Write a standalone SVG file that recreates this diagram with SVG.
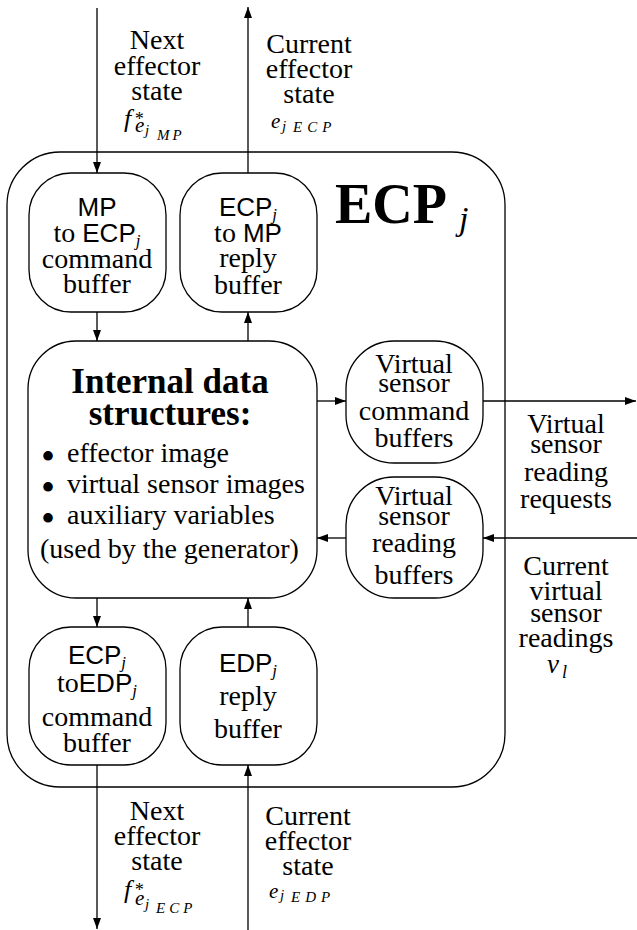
<svg xmlns="http://www.w3.org/2000/svg" width="637" height="930" viewBox="0 0 637 930">
<style>
text{fill:#000}
.s{font-family:"Liberation Serif","Times New Roman",serif;font-size:28px}
.c{text-anchor:middle}
.sans{font-family:"Liberation Sans",Arial,sans-serif;font-size:26px}
.it{font-family:"Liberation Serif","Times New Roman",serif;font-style:italic}
.b{font-family:"Liberation Serif","Times New Roman",serif;font-weight:bold}
.box{fill:#fff;stroke:#000;stroke-width:1.3}
.ln{fill:none;stroke:#000;stroke-width:1.3}
</style>
<defs>
<marker id="ah" markerUnits="userSpaceOnUse" markerWidth="11" markerHeight="8" refX="11" refY="4" orient="auto">
<path d="M0,0 L11,4 L0,8 z" fill="#000"/>
</marker>
</defs>

<g id="ecp">
<rect class="box" x="7" y="152" width="498" height="635" rx="53" ry="53"/>
<text class="b" x="335" y="223" font-size="56">ECP<tspan class="it" x="459" y="230" font-size="34" font-weight="normal">j</tspan></text>
</g>

<g id="connectors">
<line class="ln" x1="97" y1="8" x2="97" y2="173" marker-end="url(#ah)"/>
<line class="ln" x1="248" y1="173" x2="248" y2="7" marker-end="url(#ah)"/>
<line class="ln" x1="97" y1="312" x2="97" y2="341" marker-end="url(#ah)"/>
<line class="ln" x1="248" y1="341" x2="248" y2="312" marker-end="url(#ah)"/>
<line class="ln" x1="317" y1="401" x2="346" y2="401" marker-end="url(#ah)"/>
<line class="ln" x1="483" y1="401" x2="636" y2="401" marker-end="url(#ah)"/>
<line class="ln" x1="637" y1="538" x2="483" y2="538" marker-end="url(#ah)"/>
<line class="ln" x1="346" y1="538" x2="317" y2="538" marker-end="url(#ah)"/>
<line class="ln" x1="97" y1="598" x2="97" y2="627" marker-end="url(#ah)"/>
<line class="ln" x1="248" y1="627" x2="248" y2="598" marker-end="url(#ah)"/>
<line class="ln" x1="97" y1="765" x2="97" y2="929" marker-end="url(#ah)"/>
<line class="ln" x1="248" y1="930" x2="248" y2="765" marker-end="url(#ah)"/>
</g>

<g id="mp-to-ecp">
<rect class="box" x="29" y="173" width="137" height="139" rx="42" ry="42"/>
<text class="s c" x="97" y="216"><tspan class="sans">MP</tspan><tspan x="97" y="242">to </tspan><tspan class="sans">ECP</tspan><tspan class="it" font-size="17" dy="4">j</tspan><tspan x="97" y="268">command</tspan><tspan x="97" y="293">buffer</tspan></text>
</g>

<g id="ecp-to-mp">
<rect class="box" x="180" y="173" width="137" height="139" rx="42" ry="42"/>
<text class="s c" x="248" y="216"><tspan class="sans">ECP</tspan><tspan class="it" font-size="17" dy="4">j</tspan><tspan x="248" y="242">to </tspan><tspan class="sans">MP</tspan><tspan x="248" y="267">reply</tspan><tspan x="248" y="294">buffer</tspan></text>
</g>

<g id="internal">
<rect class="box" x="28" y="341" width="289" height="257" rx="48" ry="48"/>
<text class="b c" x="170" y="393" font-size="35">Internal data<tspan x="170" y="425">structures:</tspan></text>
<text class="s" x="41" y="470" style="font-size:40px">•<tspan x="41" y="501">•</tspan><tspan x="41" y="532">•</tspan></text>
<text class="s" x="67" y="462">effector image<tspan x="67" y="493">virtual sensor images</tspan><tspan x="67" y="524">auxiliary variables</tspan><tspan x="40" y="558">(used by the generator)</tspan></text>
</g>

<g id="vs-command">
<rect class="box" x="346" y="341" width="137" height="122" rx="48" ry="48"/>
<text class="s c" x="414" y="373">Virtual<tspan x="414" y="392">sensor</tspan><tspan x="414" y="420">command</tspan><tspan x="414" y="447">buffers</tspan></text>
</g>

<g id="vs-reading">
<rect class="box" x="346" y="477" width="137" height="121" rx="48" ry="48"/>
<text class="s c" x="414" y="505">Virtual<tspan x="414" y="525">sensor</tspan><tspan x="414" y="552">reading</tspan><tspan x="414" y="584">buffers</tspan></text>
</g>

<g id="ecp-to-edp">
<rect class="box" x="29" y="627" width="137" height="138" rx="42" ry="42"/>
<text class="s c" x="97" y="664"><tspan class="sans">ECP</tspan><tspan class="it" font-size="17" dy="4">j</tspan><tspan x="97" y="692">to</tspan><tspan class="sans">EDP</tspan><tspan class="it" font-size="17" dy="4">j</tspan><tspan x="97" y="726">command</tspan><tspan x="97" y="752">buffer</tspan></text>
</g>

<g id="edp-reply">
<rect class="box" x="180" y="627" width="137" height="138" rx="42" ry="42"/>
<text class="s c" x="248" y="672"><tspan class="sans">EDP</tspan><tspan class="it" font-size="17" dy="4">j</tspan><tspan x="248" y="705">reply</tspan><tspan x="248" y="738">buffer</tspan></text>
</g>

<g id="labels">
<text class="s c" x="157" y="49">Next<tspan x="157" y="75">effector</tspan><tspan x="157" y="100">state</tspan></text>
<text class="it" x="124" y="127" font-size="26">f<tspan x="134" y="125" font-size="18">*</tspan><tspan x="135" y="132" font-size="21">e</tspan><tspan x="145" y="135" font-size="15">j</tspan><tspan x="157" y="140" font-size="15" letter-spacing="3">MP</tspan></text>

<text class="s c" x="309" y="53">Current<tspan x="309" y="78">effector</tspan><tspan x="309" y="103">state</tspan></text>
<text class="it" x="271" y="128" font-size="21">e<tspan x="282" y="131" font-size="15">j</tspan><tspan x="293" y="132" font-size="15" letter-spacing="5">ECP</tspan></text>

<text class="s c" x="566" y="433">Virtual<tspan x="566" y="453">sensor</tspan><tspan x="566" y="481">reading</tspan><tspan x="566" y="508">requests</tspan></text>

<text class="s c" x="566" y="575">Current<tspan x="566" y="600">virtual</tspan><tspan x="566" y="622">sensor</tspan><tspan x="566" y="647">readings</tspan></text>
<text class="it" x="547" y="673" font-size="27">v<tspan x="562" y="678" font-size="18">l</tspan></text>

<text class="s c" x="157" y="820">Next<tspan x="157" y="845">effector</tspan><tspan x="157" y="870">state</tspan></text>
<text class="it" x="124" y="898" font-size="26">f<tspan x="134" y="896" font-size="18">*</tspan><tspan x="135" y="905" font-size="21">e</tspan><tspan x="145" y="909" font-size="15">j</tspan><tspan x="156" y="913" font-size="15" letter-spacing="4">ECP</tspan></text>

<text class="s c" x="308" y="825">Current<tspan x="308" y="850">effector</tspan><tspan x="308" y="875">state</tspan></text>
<text class="it" x="269" y="898" font-size="21">e<tspan x="280" y="900" font-size="15">j</tspan><tspan x="291" y="902" font-size="15" letter-spacing="5">EDP</tspan></text>
</g>
</svg>
